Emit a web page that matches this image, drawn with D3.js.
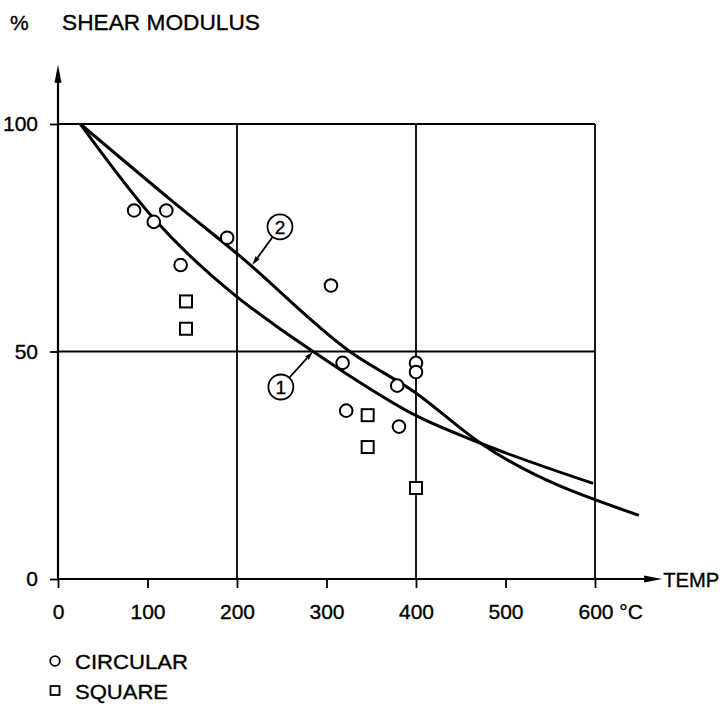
<!DOCTYPE html>
<html>
<head>
<meta charset="utf-8">
<script src="https://cdn.jsdelivr.net/npm/d3@7/dist/d3.min.js"></script>
<style>
  html, body { margin: 0; padding: 0; background: #fff; }
  svg { display: block; }
  text { font-family: "Liberation Sans", Arial, sans-serif; fill: #000; stroke: #000; stroke-width: 0.35; }
</style>
</head>
<body>
<svg id="chart" width="723" height="704"></svg>
<script>
// ---- data ----
const xTicks = [0, 100, 200, 300, 400, 500, 600];
const yTicks = [0, 50, 100];
const xGrid = [200, 400, 600];
const yGrid = [50, 100];

// circular specimens
const circularTemp = [85, 107, 121, 137, 189, 305, 318, 322, 379, 381, 400, 400];
const circularG    = [81, 78.5, 81, 69, 75, 64.5, 47.5, 37, 42.5, 33.5, 47.5, 45.5];

// square specimens
const squareTemp = [143, 143, 346, 346, 400];
const squareG    = [61, 55, 36, 29, 20];

// curve 1 (lower)
const curve1Temp = [25, 108, 200, 248, 285, 323, 399, 470, 598];
const curve1G    = [100, 79, 62, 55, 50, 45, 36, 30, 21];

// curve 2 (upper)
const curve2Temp = [25, 128, 203, 326, 399, 471, 649];
const curve2G    = [100, 83, 71, 50, 41, 30, 14];

// curve labels
const labelNames = ["1", "2"];
const labelTemp  = [249, 248];
const labelG     = [42.2, 77.4];
const arrowTemp  = [285, 217];
const arrowG     = [50, 69];

const legendNames = ["CIRCULAR", "SQUARE"];

// ---- drawing ----
const svg = d3.select("#chart");
const x = d3.scaleLinear().domain([0, 600]).range([58, 595]);
const y = d3.scaleLinear().domain([0, 100]).range([579, 124]);

const ink = "#000";
const fs = 21;

// grid lines
svg.append("g").selectAll("line").data(xGrid).join("line")
  .attr("x1", d => x(d)).attr("x2", d => x(d))
  .attr("y1", y(0)).attr("y2", y(100))
  .attr("stroke", ink).attr("stroke-width", 1.8);
svg.append("g").selectAll("line").data(yGrid).join("line")
  .attr("x1", x(0)).attr("x2", x(600))
  .attr("y1", d => y(d)).attr("y2", d => y(d))
  .attr("stroke", ink).attr("stroke-width", 1.8);

// x axis
const xAxis = d3.axisBottom(x).tickValues(xTicks).tickSize(9).tickPadding(16)
  .tickFormat(d => d === 600 ? "600 °C" : String(d));
const gx = svg.append("g").attr("transform", `translate(0,${y(0)})`).call(xAxis);
gx.select(".domain").remove();
gx.selectAll(".tick line").attr("stroke", ink).attr("stroke-width", 1.8);
gx.selectAll(".tick text").attr("font-size", fs).attr("font-family", "Liberation Sans, Arial, sans-serif").attr("fill", ink);
gx.selectAll(".tick text").filter(d => d === 600).attr("text-anchor", "start").attr("dx", -17);

// y axis
const yAxis = d3.axisLeft(y).tickValues(yTicks).tickSize(8).tickPadding(12);
const gy = svg.append("g").attr("transform", `translate(${x(0)},0)`).call(yAxis);
gy.select(".domain").remove();
gy.selectAll(".tick line").attr("stroke", ink).attr("stroke-width", 1.8);
gy.selectAll(".tick text").attr("font-size", fs).attr("font-family", "Liberation Sans, Arial, sans-serif").attr("fill", ink);

// axis lines with arrows
const xEnd = 675, yEnd = 113;
svg.append("line").attr("x1", x(0)).attr("x2", x(xEnd) - 14)
  .attr("y1", y(0)).attr("y2", y(0)).attr("stroke", ink).attr("stroke-width", 2.2);
svg.append("path")
  .attr("d", `M${x(xEnd)},${y(0)} L${x(xEnd) - 18},${y(0) - 3.5} L${x(xEnd) - 18},${y(0) + 3.5} Z`)
  .attr("fill", ink);
svg.append("line").attr("x1", x(0)).attr("x2", x(0))
  .attr("y1", y(0)).attr("y2", y(yEnd) + 14).attr("stroke", ink).attr("stroke-width", 2.2);
svg.append("path")
  .attr("d", `M${x(0)},${y(yEnd)} L${x(0) - 3.5},${y(yEnd) + 18} L${x(0) + 3.5},${y(yEnd) + 18} Z`)
  .attr("fill", ink);

svg.append("text").attr("x", x(xEnd) + 1).attr("y", y(0) + 8)
  .attr("font-size", fs).attr("textLength", 56).attr("lengthAdjust", "spacingAndGlyphs").text("TEMP");

// title
svg.append("text").attr("x", 10).attr("y", 30).attr("font-size", fs).text("%");
svg.append("text").attr("x", 62).attr("y", 30).attr("font-size", 22)
  .attr("textLength", 198).attr("lengthAdjust", "spacingAndGlyphs").text("SHEAR MODULUS");

// curves
const line = d3.line().x(d => x(d[0])).y(d => y(d[1])).curve(d3.curveMonotoneX);
svg.append("path").datum(curve1Temp.map((t, i) => [t, curve1G[i]]))
  .attr("d", line).attr("fill", "none").attr("stroke", ink).attr("stroke-width", 3)
  .attr("stroke-linejoin", "round");
svg.append("path").datum(curve2Temp.map((t, i) => [t, curve2G[i]]))
  .attr("d", line).attr("fill", "none").attr("stroke", ink).attr("stroke-width", 3)
  .attr("stroke-linejoin", "round");

// data markers
svg.append("g").selectAll("circle").data(circularTemp.map((t, i) => [t, circularG[i]])).join("circle")
  .attr("cx", d => x(d[0])).attr("cy", d => y(d[1])).attr("r", 6.3)
  .attr("fill", "#fff").attr("stroke", ink).attr("stroke-width", 2);
svg.append("g").selectAll("rect").data(squareTemp.map((t, i) => [t, squareG[i]])).join("rect")
  .attr("x", d => x(d[0]) - 6).attr("y", d => y(d[1]) - 6).attr("width", 12).attr("height", 12)
  .attr("fill", "#fff").attr("stroke", ink).attr("stroke-width", 2);

// curve labels with arrows
labelNames.forEach((name, i) => {
  const cx = x(labelTemp[i]), cy = y(labelG[i]);
  const tx = x(arrowTemp[i]), ty = y(arrowG[i]);
  const r = 12.5;
  const ang = Math.atan2(ty - cy, tx - cx);
  const sx = cx + r * Math.cos(ang), sy = cy + r * Math.sin(ang);
  const hx = tx - 9 * Math.cos(ang), hy = ty - 9 * Math.sin(ang);
  svg.append("line").attr("x1", sx).attr("y1", sy).attr("x2", hx).attr("y2", hy)
    .attr("stroke", ink).attr("stroke-width", 1.8);
  const px = -Math.sin(ang), py = Math.cos(ang);
  svg.append("path")
    .attr("d", `M${tx},${ty} L${hx + 2.5 * px},${hy + 2.5 * py} L${hx - 2.5 * px},${hy - 2.5 * py} Z`)
    .attr("fill", ink);
  svg.append("circle").attr("cx", cx).attr("cy", cy).attr("r", r)
    .attr("fill", "#fff").attr("stroke", ink).attr("stroke-width", 1.8);
  svg.append("text").attr("x", cx).attr("y", cy + 7).attr("text-anchor", "middle")
    .attr("font-size", 19).text(name);
});

// legend
const lg = svg.append("g");
lg.append("circle").attr("cx", 55).attr("cy", 661).attr("r", 4.8)
  .attr("fill", "#fff").attr("stroke", ink).attr("stroke-width", 1.8);
lg.append("rect").attr("x", 50.5).attr("y", 686).attr("width", 9).attr("height", 9)
  .attr("fill", "#fff").attr("stroke", ink).attr("stroke-width", 1.8);
lg.append("text").attr("x", 75).attr("y", 669).attr("font-size", fs)
  .attr("textLength", 113).attr("lengthAdjust", "spacingAndGlyphs").text(legendNames[0]);
lg.append("text").attr("x", 75).attr("y", 699).attr("font-size", fs)
  .attr("textLength", 93).attr("lengthAdjust", "spacingAndGlyphs").text(legendNames[1]);
</script>
</body>
</html>
